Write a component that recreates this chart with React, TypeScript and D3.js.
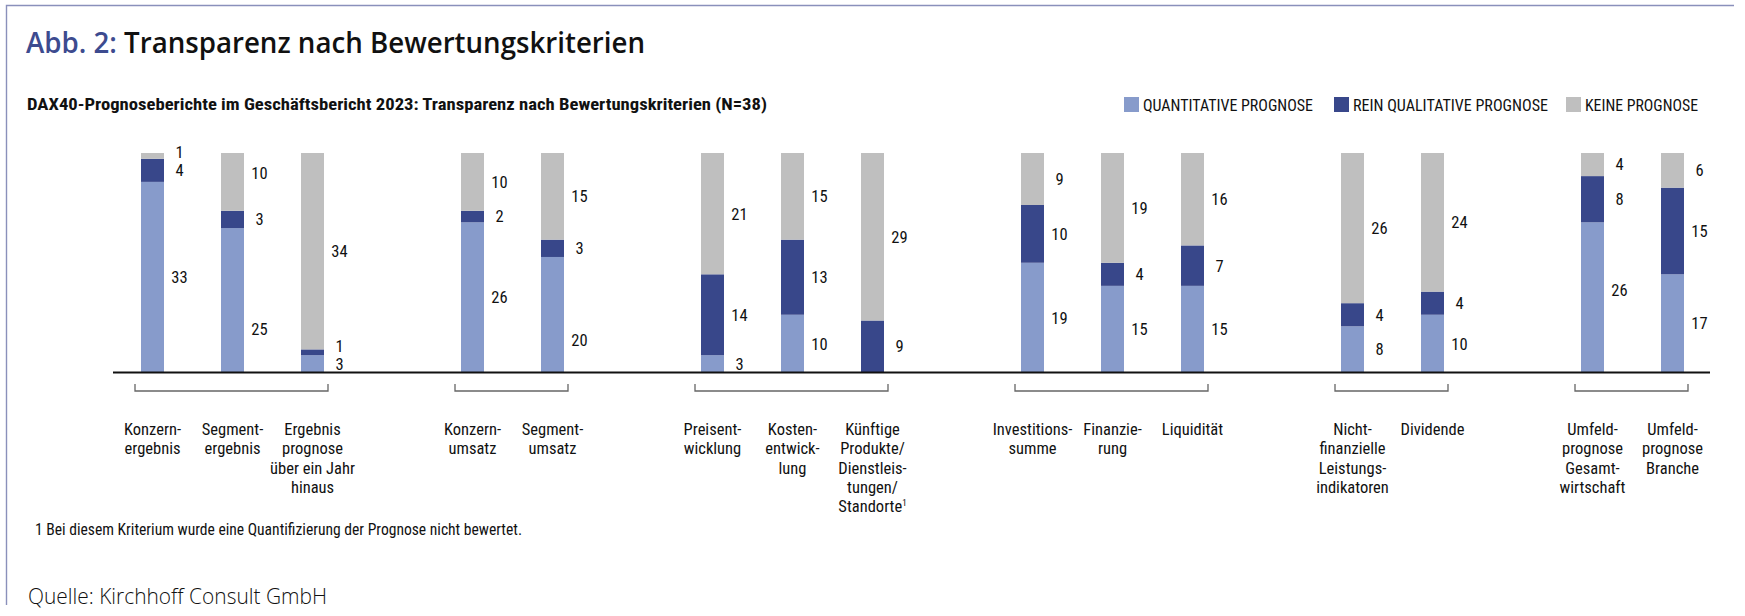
import React, { useRef, useEffect } from 'react';
import * as d3 from 'd3';

// Werte aus der Abbildung (N=38)
const categories = [
  'konzernergebnis', 'segmentergebnis', 'ergebnisprognose',
  'konzernumsatz', 'segmentumsatz',
  'preisentwicklung', 'kostenentwicklung', 'kuenftige',
  'investitionssumme', 'finanzierung', 'liquiditaet',
  'nichtfinanziell', 'dividende',
  'umfeldgesamt', 'umfeldbranche',
];
const categoryLines = [
  ['Konzern-', 'ergebnis'],
  ['Segment-', 'ergebnis'],
  ['Ergebnis', 'prognose', 'über ein Jahr', 'hinaus'],
  ['Konzern-', 'umsatz'],
  ['Segment-', 'umsatz'],
  ['Preisent-', 'wicklung'],
  ['Kosten-', 'entwick-', 'lung'],
  ['Künftige', 'Produkte/', 'Dienstleis-', 'tungen/', 'Standorte¹'],
  ['Investitions-', 'summe'],
  ['Finanzie-', 'rung'],
  ['Liquidität'],
  ['Nicht-', 'finanzielle', 'Leistungs-', 'indikatoren'],
  ['Dividende'],
  ['Umfeld-', 'prognose', 'Gesamt-', 'wirtschaft'],
  ['Umfeld-', 'prognose', 'Branche'],
];
const groupSizes = [3, 2, 3, 3, 2, 2];

const quantitativ = [33, 25, 3, 26, 20, 3, 10, 0, 19, 15, 15, 8, 10, 26, 17];
const qualitativ = [4, 3, 1, 2, 3, 14, 13, 9, 10, 4, 7, 4, 4, 8, 15];
const keine = [1, 10, 34, 10, 15, 21, 15, 29, 9, 19, 16, 26, 24, 4, 6];

const seriesKeys = ['quant', 'qual', 'keine'];
const seriesNames = ['QUANTITATIVE PROGNOSE', 'REIN QUALITATIVE PROGNOSE', 'KEINE PROGNOSE'];
const colors = ['#879bcb', '#38478a', '#bfbfbf'];
const total = 38;

// kleine Verschiebungen der Wertelabels wie im Original (px)
const labelNudge: Record<string, number> = {
  'segmentergebnis:keine': -9,
  'segmentergebnis:quant': 29,
  'segmentumsatz:quant': 25,
  'umfeldgesamt:quant': -7,
};

const W = 1745;
const H = 616;
const narrow = "'Liberation Sans Narrow', 'Roboto Condensed', 'DejaVu Sans Condensed', Roboto, Arial, sans-serif";

const App = () => {
  const ref = useRef<SVGSVGElement>(null);

  useEffect(() => {
    const svg = d3.select(ref.current);
    svg.selectAll('*').remove();

    // Rahmen (oben + links)
    svg.append('path')
      .attr('d', `M6.5,605 V5.5 H1734`)
      .attr('fill', 'none')
      .attr('stroke', '#8a90bb')
      .attr('stroke-width', 1.4);

    // Titel
    const title = svg.append('text')
      .attr('x', 26).attr('y', 53)
      .attr('font-family', "'Open Sans', 'Noto Sans', sans-serif")
      .attr('font-weight', 600)
      .attr('font-size', 28)
      .attr('textLength', 619)
      .attr('lengthAdjust', 'spacingAndGlyphs');
    title.append('tspan').attr('fill', '#3d4b8f').text('Abb. 2: ');
    title.append('tspan').attr('fill', '#111').text('Transparenz nach Bewertungskriterien');

    svg.append('text')
      .attr('x', 27).attr('y', 110)
      .attr('font-family', narrow)
      .attr('font-weight', 700)
      .attr('font-size', 17)
      .attr('fill', '#111')
      .attr('textLength', 740)
      .attr('lengthAdjust', 'spacingAndGlyphs')
      .text('DAX40-Prognoseberichte im Geschäftsbericht 2023: Transparenz nach Bewertungskriterien (N=38)');

    // Legende
    const legendX = [1124, 1334, 1566];
    const legendW = [170, 195, 113];
    seriesNames.forEach((name, i) => {
      svg.append('rect')
        .attr('x', legendX[i]).attr('y', 97)
        .attr('width', 15).attr('height', 15)
        .attr('fill', colors[i]);
      svg.append('text')
        .attr('x', legendX[i] + 19).attr('y', 111)
        .attr('font-family', narrow)
        .attr('font-size', 16)
        .attr('fill', '#111')
        .attr('textLength', legendW[i])
        .attr('lengthAdjust', 'spacingAndGlyphs')
        .text(name);
    });

    // Slots: Kategorien + Lücke zwischen den Gruppen
    const slots: string[] = [];
    const groups: string[][] = [];
    let k = 0;
    groupSizes.forEach((n, gi) => {
      const g = categories.slice(k, k + n);
      groups.push(g);
      slots.push(...g);
      if (gi < groupSizes.length - 1) slots.push(`gap${gi}`);
      k += n;
    });

    const xScale = d3.scaleBand()
      .domain(slots)
      .range([113, 1712])
      .paddingInner(0.7125)
      .paddingOuter(0.35);
    const bw = xScale.bandwidth();

    const yScale = d3.scaleLinear().domain([0, total]).range([372.5, 153]);

    const rows = categories.map((c, i) => ({
      cat: c,
      quant: quantitativ[i],
      qual: qualitativ[i],
      keine: keine[i],
    }));
    const stacked = d3.stack<any>().keys(seriesKeys)(rows);

    stacked.forEach((layer, li) => {
      svg.append('g')
        .selectAll('rect')
        .data(layer)
        .enter()
        .append('rect')
        .attr('x', (d: any) => xScale(d.data.cat) as number)
        .attr('y', (d: any) => yScale(d[1]))
        .attr('width', bw)
        .attr('height', (d: any) => yScale(d[0]) - yScale(d[1]))
        .attr('fill', colors[li]);
    });

    // Wertelabels rechts neben den Balken
    const labelG = svg.append('g')
      .attr('font-family', narrow)
      .attr('font-size', 16.5)
      .attr('fill', '#111')
      .attr('text-anchor', 'middle');
    rows.forEach((r, i) => {
      let prev = Infinity;
      stacked.forEach((layer) => {
        const d: any = layer[i];
        const v = d[1] - d[0];
        if (v <= 0) return;
        let cy = (yScale(d[0]) + yScale(d[1])) / 2;
        if (cy > prev - 18) cy = prev - 18;
        prev = cy;
        cy += labelNudge[`${r.cat}:${layer.key}`] || 0;
        labelG.append('text')
          .attr('x', (xScale(r.cat) as number) + bw + 15.5)
          .attr('y', cy)
          .attr('dy', '0.36em')
          .text(v);
      });
    });

    // Grundlinie
    svg.append('line')
      .attr('x1', 113).attr('x2', 1710)
      .attr('y1', yScale(0)).attr('y2', yScale(0))
      .attr('stroke', '#111')
      .attr('stroke-width', 2);

    // Klammern unter den Gruppen
    groups.forEach((g) => {
      const x1 = (xScale(g[0]) as number) - 6;
      const x2 = (xScale(g[g.length - 1]) as number) + bw + 4;
      svg.append('path')
        .attr('d', `M${x1},384 V391 H${x2} V384`)
        .attr('fill', 'none')
        .attr('stroke', '#666')
        .attr('stroke-width', 1.3);
    });

    // Kategorienbeschriftung
    const catG = svg.append('g')
      .attr('font-family', narrow)
      .attr('font-size', 16.5)
      .attr('fill', '#111')
      .attr('text-anchor', 'middle');
    categories.forEach((c, i) => {
      const cx = (xScale(c) as number) + bw / 2;
      const t = catG.append('text').attr('x', cx).attr('y', 435);
      categoryLines[i].forEach((line, li) => {
        const sup = line.endsWith('¹');
        t.append('tspan')
          .attr('x', cx)
          .attr('y', 435 + li * 19.3)
          .text(sup ? line.slice(0, -1) : line);
        if (sup) {
          t.append('tspan')
            .attr('font-size', 9)
            .attr('dy', -6)
            .text('1');
        }
      });
    });

    // Fußnote und Quelle
    svg.append('text')
      .attr('x', 35).attr('y', 535)
      .attr('font-family', narrow)
      .attr('font-size', 16)
      .attr('fill', '#111')
      .attr('textLength', 487)
      .attr('lengthAdjust', 'spacingAndGlyphs')
      .text('1 Bei diesem Kriterium wurde eine Quantifizierung der Prognose nicht bewertet.');

    svg.append('text')
      .attr('x', 28).attr('y', 604)
      .attr('font-family', "'Open Sans', 'Noto Sans', sans-serif")
      .attr('font-weight', 300)
      .attr('font-size', 22)
      .attr('fill', '#111')
      .attr('textLength', 299)
      .attr('lengthAdjust', 'spacingAndGlyphs')
      .text('Quelle: Kirchhoff Consult GmbH');
  }, []);

  return (
    <svg
      ref={ref}
      width={W}
      height={H}
      style={{ position: 'absolute', left: 0, top: 0, background: '#fff' }}
    />
  );
};

export default App;
